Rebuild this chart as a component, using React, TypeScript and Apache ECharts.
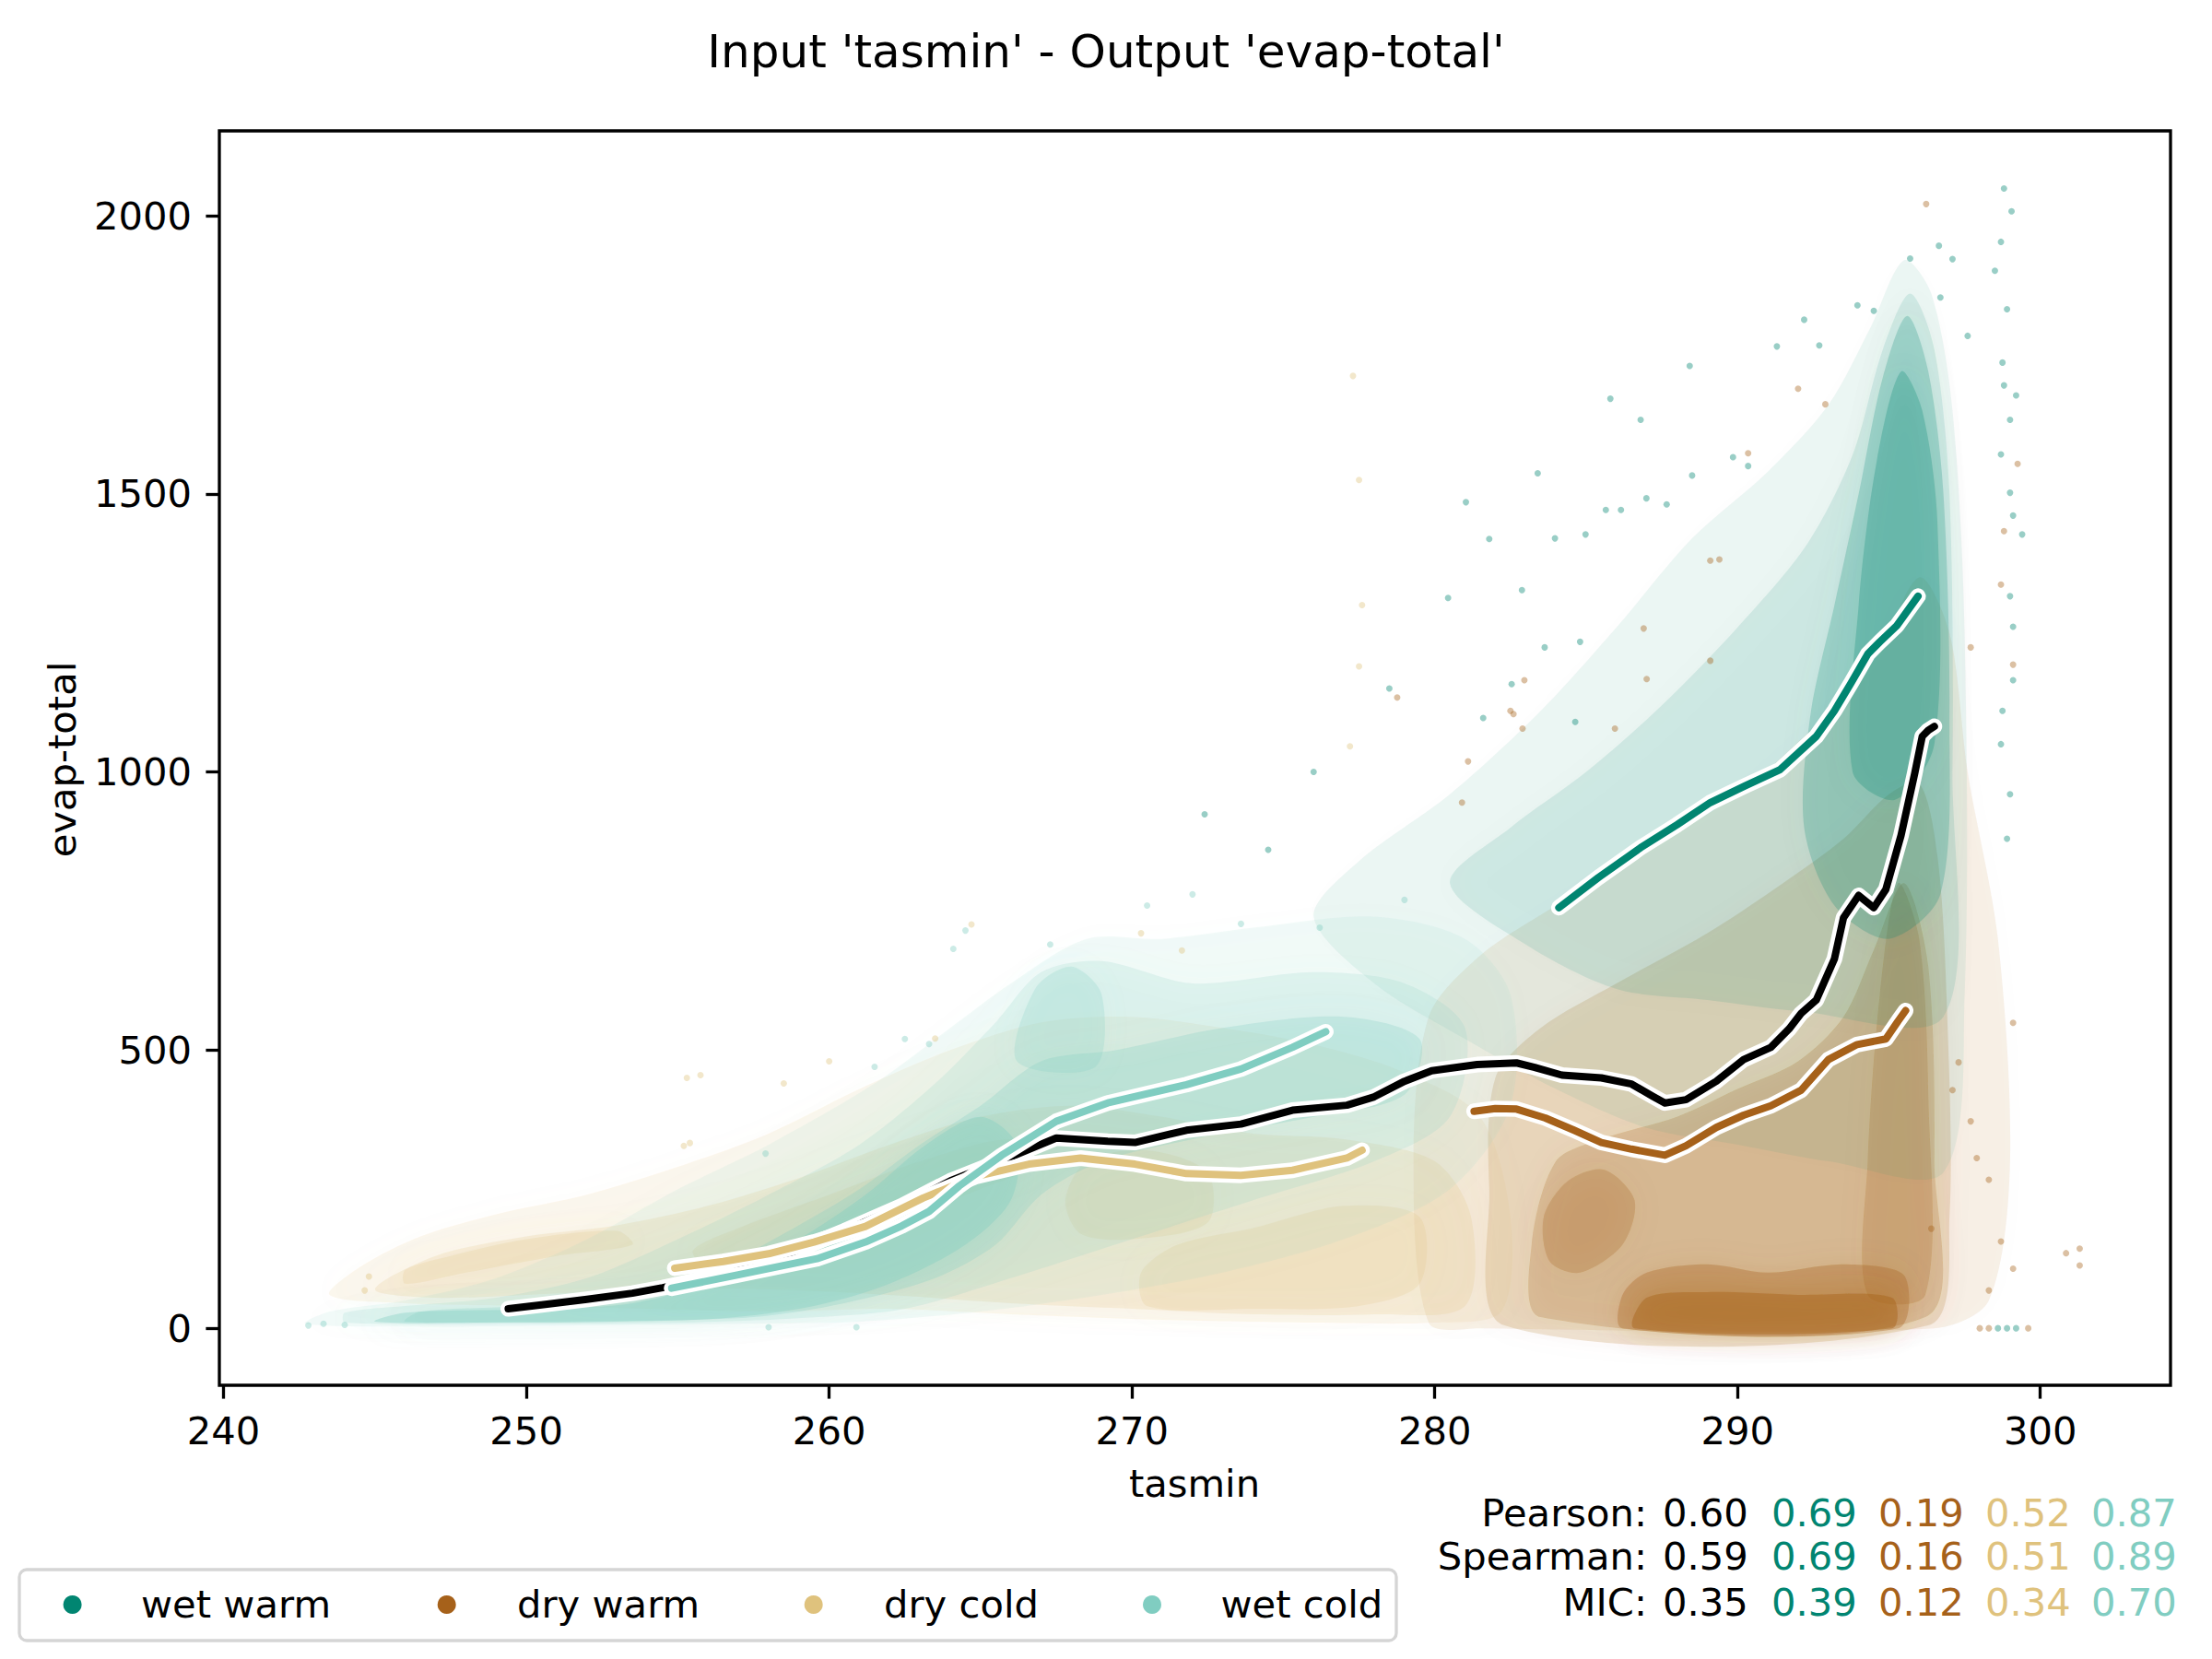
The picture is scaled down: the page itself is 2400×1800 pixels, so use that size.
import React, { useEffect, useRef } from "react";
import * as echarts from "echarts";

const FONT = "'DejaVu Sans', 'Liberation Sans', sans-serif";
const TITLE = "Input 'tasmin' - Output 'evap-total'";
const X_NAME = "tasmin";
const Y_NAME = "evap-total";

const X_TICKS = [240, 250, 260, 270, 280, 290, 300];
const Y_TICKS = [0, 500, 1000, 1500, 2000];
const X_MIN = 239.86;
const X_MAX = 304.3;
const Y_MIN = -102.5;
const Y_MAX = 2152.5;

const GROUPS = ["wet warm", "dry warm", "dry cold", "wet cold"];
const GROUP_COLORS = ["#018571", "#a6611a", "#dfc27d", "#80cdc1"];
const ALL_COLOR = "#000000";

const STAT_NAMES = ["Pearson:", "Spearman:", "MIC:"];
const PEARSON = [0.6, 0.69, 0.19, 0.52, 0.87];
const SPEARMAN = [0.59, 0.69, 0.16, 0.51, 0.89];
const MIC = [0.35, 0.39, 0.12, 0.34, 0.7];

// ---- running-mean lines ----
const ALL_X = [249.4, 250.5, 252, 253.5, 254.5, 256.8, 258.7, 260.5, 262.4, 264, 265.9, 267.5, 269.2, 270.1, 271.8, 273.6, 275.3, 277.1, 278.0, 279.0, 279.9, 281.4, 282.7, 283.3, 284.2, 285.5, 286.5, 287.2, 287.6, 288.3, 289.3, 290.2, 291.1, 291.7, 292.1, 292.6, 293.2, 293.5, 294.0, 294.5, 294.9, 295.4, 295.85, 296.1, 296.3, 296.5];
const ALL_Y = [35, 42, 52, 63, 73, 100, 135, 175, 220, 265, 306, 342, 336, 334, 356, 367, 392, 401, 416, 444, 463, 474, 477, 469, 455, 450, 439, 417, 405, 411, 444, 483, 505, 538, 566, 590, 664, 738, 778, 756, 789, 886, 997, 1064, 1075, 1082];

const WW_X = [284.1, 285.4, 286.8, 288.0, 289.1, 290.25, 291.4, 292.6, 293.2, 293.75, 294.3, 294.7, 295.26, 295.96];
const WW_Y = [756, 810, 864, 905, 945, 975, 1004, 1064, 1110, 1160, 1212, 1234, 1263, 1316];

const DW_X = [281.3, 282.0, 282.7, 283.65, 284.6, 285.5, 286.5, 287.6, 288.3, 289.3, 290.2, 291.1, 292.1, 293.0, 293.95, 294.9, 295.3, 295.55];
const DW_Y = [390, 395, 394, 378, 356, 334, 322, 311, 328, 361, 383, 400, 428, 483, 510, 520, 552, 571];

const DC_X = [254.9, 256.5, 258.0, 259.5, 261.2, 263.1, 264.85, 266.6, 268.3, 270.1, 271.8, 273.6, 275.3, 277.1, 277.6];
const DC_Y = [108, 120, 134, 155, 183, 234, 273, 295, 306, 295, 278, 275, 284, 306, 320];

const WC_X = [254.8, 257.0, 259.6, 261.2, 262.4, 263.3, 264.3, 265.7, 267.5, 269.2, 271.8, 273.6, 275.3, 276.4];
const WC_Y = [72, 96, 125, 155, 184, 210, 256, 311, 372, 405, 438, 466, 505, 533];

// ---- point-cloud density outlines (data coordinates) ----
const WW_OUTER = [[276, 740], [278, 620], [281, 520], [284, 430], [287, 360], [290, 330], [293, 300], [296.8, 280], [297.5, 600], [297.5, 1250], [297.1, 1650], [296.4, 1860], [295.5, 1920], [294.4, 1800], [293, 1660], [291, 1540], [288.5, 1420], [286, 1260], [283.5, 1110], [280.5, 960], [277.5, 840]];
const WW_MID = [[280.5, 800], [283, 690], [286, 610], [289, 590], [292, 570], [296.8, 560], [297.1, 1000], [297, 1500], [296.5, 1760], [295.7, 1860], [294.8, 1760], [293.8, 1570], [292.3, 1410], [290, 1260], [287.5, 1120], [285, 1000], [282.5, 900]];
const WW_CORE = [[292.2, 900], [293.2, 760], [295, 700], [296.7, 780], [297, 1100], [296.8, 1500], [296.3, 1720], [295.6, 1820], [294.8, 1710], [294, 1500], [293.2, 1300], [292.4, 1100]];
const WW_DENSE = [[293.8, 1000], [295.2, 950], [296.5, 1050], [296.6, 1450], [296.1, 1650], [295.4, 1720], [294.6, 1560], [294, 1300]];

const DW_OUTER = [[279.8, 10], [281.5, 0], [296.5, 0], [298.3, 50], [299, 300], [298.6, 700], [297.6, 1000], [297, 1250], [296, 1350], [294.5, 1200], [292.5, 1080], [290, 960], [287, 860], [284, 760], [281.5, 670], [279.8, 560], [279.3, 300]];
const DW_MID = [[282.3, 5], [296.3, 5], [297, 200], [296.9, 600], [296.6, 850], [296, 980], [295, 960], [293.5, 880], [291.5, 800], [289, 710], [286, 620], [283.5, 540], [282, 450], [281.8, 250]];
const DW_CORE = [[283.5, 20], [296.2, 20], [296.5, 300], [296.3, 650], [295.5, 800], [294.5, 680], [293.5, 560], [292, 480], [290, 430], [288, 380], [285.5, 340], [284, 300], [283.2, 150]];
const DW_BLOB = [[283.8, 120], [284.8, 100], [286.2, 150], [286.6, 230], [285.6, 285], [284.4, 265], [283.6, 200]];
const DW_COLUMN = [[294.3, 60], [296.2, 60], [296.3, 420], [296, 700], [295.3, 800], [294.7, 600], [294.3, 300]];
const DW_BAND = [[286.2, 0], [295.3, 0], [295.5, 95], [293.5, 115], [291, 100], [289, 115], [287, 100], [286.2, 60]];
const DW_SOLID = [[286.6, 0], [295.1, 0], [295.1, 55], [292, 60], [289, 65], [287, 55]];

const DC_OUTER = [[243.5, 60], [244.5, 110], [246.5, 165], [249, 205], [252, 240], [255, 290], [258, 350], [261, 430], [264, 500], [267, 550], [270, 560], [273, 540], [276, 510], [279, 460], [281.5, 380], [282.5, 200], [282.2, 30], [280, 10], [276, 10], [271, 15], [266, 25], [262, 35], [258, 30], [254, 35], [250, 40], [246, 45]];
const DC_MID = [[245, 70], [247, 130], [250, 165], [253, 185], [256, 220], [259, 270], [262, 330], [265, 380], [268, 400], [271, 380], [274, 350], [277, 340], [280, 300], [281.2, 200], [281, 40], [278, 25], [274, 25], [270, 35], [266, 45], [262, 60], [258, 70], [254, 70], [250, 60], [247, 55]];
const DC_CORE_A = [[268.3, 170], [270, 160], [272.5, 190], [272.5, 280], [270.5, 320], [268.5, 300], [267.8, 230]];
const DC_CORE_B = [[270.5, 40], [274, 35], [277.5, 40], [279.5, 80], [279.5, 200], [277, 220], [274, 180], [271.5, 150], [270.3, 100]];
const DC_CORE_C = [[246, 80], [248, 100], [251, 130], [253.5, 150], [253, 175], [250, 160], [247.5, 130], [246, 105]];
const DC_CORE_D = [[256, 110], [259, 140], [262, 190], [265, 250], [267, 300], [266, 340], [263, 300], [260, 240], [257, 180], [255.5, 140]];

const WC_OUTER = [[242.7, 8], [246, 3], [252, 5], [257, 8], [261, 12], [265, 30], [269, 60], [273, 100], [277, 160], [280.5, 250], [282.5, 400], [282.5, 600], [281, 700], [278, 740], [274, 720], [271, 700], [268.5, 700], [266, 620], [264, 540], [261.5, 440], [258, 330], [255, 250], [252, 160], [249, 90], [246, 50], [243.5, 30]];
const WC_MID = [[244, 10], [250, 8], [255, 10], [259, 18], [262.5, 35], [266, 90], [270, 160], [274, 230], [278, 300], [280.5, 380], [281, 540], [279, 620], [276, 640], [272, 620], [269, 660], [267, 640], [265.5, 550], [263.5, 440], [261, 330], [258, 240], [255, 160], [252, 90], [249, 55], [246, 40], [244, 28]];
const WC_CORE = [[246, 12], [250, 12], [254, 14], [257.5, 20], [260.5, 45], [263.5, 90], [265.5, 150], [267, 240], [269, 300], [272, 340], [276, 380], [279, 420], [279.5, 520], [277, 560], [273, 540], [269.5, 500], [267, 480], [265, 400], [263, 330], [261, 250], [258.5, 170], [256, 100], [253, 55], [250, 40], [246.5, 30]];
const WC_DENSE = [[245, 12], [249, 10], [253, 12], [256.5, 18], [259.5, 40], [262, 80], [264.5, 150], [266, 230], [266.2, 330], [265, 380], [263.2, 330], [261.2, 240], [259, 160], [256.5, 90], [253.5, 45], [250, 34], [246, 28]];
const WC_FLAME = [[266.2, 480], [268.8, 470], [269, 600], [268, 650], [266.8, 610]];

// ---- sparse individual points ----
const WW_DOTS = [[280.44, 1313], [281.03, 1485], [288.42, 1730], [285.8, 1671], [286.8, 1633], [283.4, 1537], [281.8, 1419], [298.8, 2049], [299.05, 2008], [298.7, 1953], [298.5, 1901], [298.9, 1832], [298.75, 1736], [298.8, 1695], [299.2, 1677], [299.0, 1633], [298.7, 1571], [299.0, 1502], [299.1, 1461], [299.4, 1427], [299.0, 1316], [299.1, 1261], [299.1, 1165], [298.75, 1110], [298.7, 1050], [299.0, 960], [298.9, 880], [296.65, 1946], [297.1, 1922], [295.7, 1923], [293.96, 1839], [294.5, 1829], [292.2, 1813], [291.3, 1765], [292.7, 1767], [296.7, 1853], [297.6, 1784], [289.85, 1566], [290.35, 1550], [288.5, 1533], [287.66, 1481], [286.99, 1492], [286.15, 1471], [285.65, 1471], [284.98, 1427], [283.97, 1420], [282.88, 1327], [283.63, 1224], [284.8, 1234], [282.54, 1158], [281.6, 1097], [284.64, 1090], [272.4, 924], [276, 1000], [278.5, 1150], [274.5, 860], [298.6, 0], [298.9, 0], [299.2, 0]];
const DW_DOTS = [[296.23, 2021], [299.25, 1554], [298.8, 1433], [298.7, 1337], [299.1, 1193], [297.7, 1224], [292.0, 1689], [292.9, 1661], [290.35, 1573], [289.1, 1380], [286.9, 1258], [282.96, 1165], [282.5, 1110], [278.76, 1134], [289.4, 1382], [289.1, 1200], [287.0, 1167], [285.95, 1078], [282.9, 1078], [281.1, 1019], [280.9, 945], [282.6, 1104], [296.4, 179], [298.7, 156], [297.7, 372], [297.1, 428], [299.1, 549], [298.3, 267], [297.9, 306], [297.3, 478], [298.3, 68], [299.1, 107], [300.85, 135], [301.3, 143], [301.3, 113], [298.0, 0], [298.3, 0], [299.6, 0]];
const DC_DOTS = [[277.3, 1712], [277.5, 1525], [277.6, 1300], [277.5, 1190], [277.2, 1046], [255.3, 450], [255.75, 455], [255.2, 328], [255.4, 333], [263.5, 521], [244.8, 93], [244.66, 68], [264.7, 726], [270.3, 710], [271.65, 679], [258.5, 440], [260, 480]];
const WC_DOTS = [[242.8, 5], [243.3, 8], [244, 6], [257.9, 314], [264.1, 682], [267.3, 690], [260.9, 2], [258.0, 2], [264.5, 715], [263.3, 511], [273.6, 727], [276.2, 720], [279, 770], [270.5, 760], [272, 780], [261.5, 470], [262.5, 520]];

function rgba(hex: string, a: number) {
  const n = parseInt(hex.slice(1), 16);
  return `rgba(${(n >> 16) & 255},${(n >> 8) & 255},${n & 255},${a})`;
}

function zip(xs: number[], ys: number[]) {
  return xs.map((x, i) => [x, ys[i]]);
}

// soft-edged translucent region: fill + blurred shadow of the same colour
function polySeries(poly: number[][], color: string, alpha: number) {
  const a = 1 - Math.sqrt(1 - alpha);
  return {
    type: "custom",
    coordinateSystem: "cartesian2d",
    silent: true,
    clip: true,
    data: [poly[0]],
    renderItem: (_p: any, api: any) => ({
      type: "polygon",
      shape: { points: poly.map((pt) => api.coord(pt)), smooth: 0.3 },
      style: { fill: rgba(color, a), shadowBlur: 30, shadowColor: rgba(color, a), shadowOffsetX: 0, shadowOffsetY: 0 },
    }),
  };
}

function dotSeries(name: string, pts: number[][], color: string) {
  return {
    type: "scatter",
    name,
    data: pts,
    symbol: "circle",
    symbolSize: 7,
    silent: true,
    itemStyle: { color: rgba(color, 0.5) },
  };
}

function lineSeries(name: string, xs: number[], ys: number[], color: string) {
  const data = zip(xs, ys);
  const base = { type: "line", data, symbol: "none", showSymbol: false, silent: true, smooth: false };
  return [
    { ...base, name: name + " outline", lineStyle: { color: "#ffffff", width: 17, cap: "round", join: "round" } },
    { ...base, name, lineStyle: { color, width: 8, cap: "round", join: "round" } },
  ];
}

function buildOption() {
  const [cWW, cDW, cDC, cWC] = GROUP_COLORS;
  const series: any[] = [
    polySeries(DW_OUTER, cDW, 0.18),
    polySeries(DW_MID, cDW, 0.3),
    polySeries(DW_CORE, cDW, 0.4),
    polySeries(DW_BLOB, cDW, 0.45),
    polySeries(DW_COLUMN, cDW, 0.4),
    polySeries(DW_BAND, cDW, 0.55),
    polySeries(DW_SOLID, cDW, 0.7),
    dotSeries(GROUPS[1], DW_DOTS, cDW),
    polySeries(WW_OUTER, cWW, 0.14),
    polySeries(WW_MID, cWW, 0.22),
    polySeries(WW_CORE, cWW, 0.4),
    polySeries(WW_DENSE, cWW, 0.45),
    dotSeries(GROUPS[0], WW_DOTS, cWW),
    polySeries(DC_OUTER, cDC, 0.25),
    polySeries(DC_MID, cDC, 0.35),
    polySeries(DC_CORE_A, cDC, 0.35),
    polySeries(DC_CORE_B, cDC, 0.35),
    polySeries(DC_CORE_C, cDC, 0.35),
    polySeries(DC_CORE_D, cDC, 0.35),
    dotSeries(GROUPS[2], DC_DOTS, cDC),
    polySeries(WC_OUTER, cWC, 0.2),
    polySeries(WC_MID, cWC, 0.3),
    polySeries(WC_CORE, cWC, 0.45),
    polySeries(WC_DENSE, cWC, 0.6),
    polySeries(WC_FLAME, cWC, 0.4),
    dotSeries(GROUPS[3], WC_DOTS, cWC),
    ...lineSeries("all", ALL_X, ALL_Y, ALL_COLOR),
    ...lineSeries(GROUPS[0] + " mean", WW_X, WW_Y, cWW),
    ...lineSeries(GROUPS[1] + " mean", DW_X, DW_Y, cDW),
    ...lineSeries(GROUPS[2] + " mean", DC_X, DC_Y, cDC),
    ...lineSeries(GROUPS[3] + " mean", WC_X, WC_Y, cWC),
  ];

  const txt = (text: string, x: number, y: number, size: number, fill: string, align: string, extra: any = {}) => ({
    type: "text",
    x,
    y,
    silent: true,
    ...extra,
    style: {
      text,
      x: 0,
      y: 0,
      fill,
      fontSize: size,
      fontFamily: FONT,
      align,
      verticalAlign: "middle",
      textAlign: align,
      textVerticalAlign: "middle",
    },
  });

  const graphics: any[] = [];
  graphics.push(txt(TITLE, 1200, 56, 50, "#000", "center"));
  graphics.push(txt(X_NAME, 1296, 1609, 41.7, "#000", "center"));
  graphics.push(txt(Y_NAME, 67, 824, 41.7, "#000", "center", { rotation: Math.PI / 2 }));

  // legend
  graphics.push({
    type: "rect",
    silent: true,
    shape: { x: 21, y: 1703, width: 1494, height: 77, r: 8 },
    style: { fill: "#ffffff", stroke: "#d5d5d5", lineWidth: 3.3 },
  });
  const markerX = [78.6, 484.7, 882.7, 1250];
  const labelX = [153, 561, 959, 1324.5];
  GROUPS.forEach((g, i) => {
    graphics.push({
      type: "circle",
      silent: true,
      shape: { cx: markerX[i], cy: 1741, r: 10 },
      style: { fill: GROUP_COLORS[i] },
    });
    graphics.push(txt(g, labelX[i], 1740, 41.7, "#000", "left"));
  });

  // correlation statistics
  const rows = [PEARSON, SPEARMAN, MIC];
  const rowY = [1641, 1688, 1738];
  const colX = [1804, 1922, 2038, 2154, 2269];
  const colColors = [ALL_COLOR, ...GROUP_COLORS];
  STAT_NAMES.forEach((name, r) => {
    graphics.push(txt(name, 1787, rowY[r], 41.7, "#000", "right"));
    rows[r].forEach((v, c) => {
      graphics.push(txt(v.toFixed(2), colX[c], rowY[r], 41.7, colColors[c], "left"));
    });
  });

  const axisCommon = {
    type: "value",
    axisLine: { show: false, onZero: false },
    splitLine: { show: false },
    axisTick: { show: true, inside: false, length: 14.6, lineStyle: { color: "#000", width: 3.3 } },
  };

  return {
    animation: false,
    backgroundColor: "#ffffff",
    textStyle: { fontFamily: FONT },
    grid: {
      left: 238,
      top: 142,
      width: 2117,
      height: 1361,
      show: true,
      borderColor: "#000000",
      borderWidth: 3.3,
      backgroundColor: "rgba(0,0,0,0)",
      z: 10,
    },
    xAxis: {
      ...axisCommon,
      min: X_MIN,
      max: X_MAX,
      axisTick: { ...axisCommon.axisTick, customValues: X_TICKS },
      axisLabel: {
        customValues: X_TICKS,
        margin: 28,
        color: "#000",
        fontSize: 41.7,
        fontFamily: FONT,
        formatter: (v: number) => (X_TICKS.indexOf(Math.round(v * 1000) / 1000) >= 0 ? String(v) : ""),
      },
    },
    yAxis: {
      ...axisCommon,
      min: Y_MIN,
      max: Y_MAX,
      axisTick: { ...axisCommon.axisTick, customValues: Y_TICKS },
      axisLabel: {
        customValues: Y_TICKS,
        margin: 30,
        color: "#000",
        fontSize: 41.7,
        fontFamily: FONT,
        formatter: (v: number) => (Y_TICKS.indexOf(Math.round(v * 1000) / 1000) >= 0 ? String(v) : ""),
      },
    },
    graphic: { elements: graphics },
    series,
  };
}

export default function App() {
  const ref = useRef<HTMLDivElement>(null);
  useEffect(() => {
    if (!ref.current) return;
    const chart = echarts.init(ref.current, null, { renderer: "svg", width: 2400, height: 1800 });
    chart.setOption(buildOption() as any);
    return () => chart.dispose();
  }, []);
  return (
    <div
      ref={ref}
      style={{ position: "absolute", left: 0, top: 0, width: 2400, height: 1800, background: "#fff" }}
    />
  );
}
